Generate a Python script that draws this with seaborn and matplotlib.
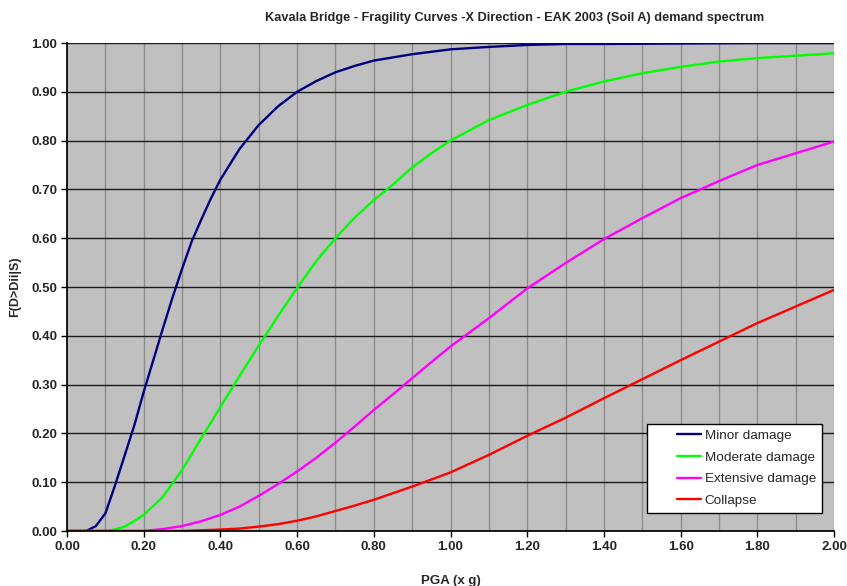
import numpy as np
import pandas as pd
import matplotlib
matplotlib.use("Agg")
import matplotlib.pyplot as plt
import seaborn as sns

title = "Kavala Bridge - Fragility Curves -X Direction - EAK 2003 (Soil A) demand spectrum"
x_label = "PGA (x g)"
y_label = "F(D>Dii|S)"

minor_x = [0.00, 0.05, 0.075, 0.10, 0.125, 0.15, 0.175, 0.20, 0.225, 0.25, 0.275, 0.30, 0.325,
           0.35, 0.375, 0.40, 0.45, 0.50, 0.55, 0.60, 0.65, 0.70, 0.75, 0.80, 0.90, 1.00,
           1.10, 1.20, 1.30, 1.40, 1.60, 1.80, 2.00]
minor_y = [0.0, 0.0, 0.01, 0.036, 0.093, 0.154, 0.215, 0.285, 0.35, 0.415, 0.478, 0.537, 0.593,
           0.638, 0.681, 0.72, 0.783, 0.832, 0.87, 0.90, 0.922, 0.94, 0.953, 0.964, 0.977, 0.987,
           0.992, 0.996, 0.998, 0.998, 0.999, 1.0, 1.0]

moderate_x = [0.00, 0.10, 0.125, 0.15, 0.175, 0.20, 0.25, 0.30, 0.35, 0.40, 0.45, 0.50, 0.55,
              0.60, 0.65, 0.70, 0.75, 0.80, 0.85, 0.90, 0.95, 1.00, 1.10, 1.20, 1.30, 1.40,
              1.50, 1.60, 1.70, 1.80, 1.90, 2.00]
moderate_y = [0.0, 0.0, 0.003, 0.009, 0.02, 0.033, 0.07, 0.125, 0.19, 0.254, 0.318, 0.38, 0.44,
              0.498, 0.553, 0.60, 0.642, 0.678, 0.71, 0.745, 0.774, 0.80, 0.842, 0.873, 0.90, 0.921,
              0.938, 0.951, 0.962, 0.969, 0.974, 0.979]

extensive_x = [0.00, 0.20, 0.25, 0.30, 0.35, 0.40, 0.45, 0.50, 0.55, 0.60, 0.65, 0.70, 0.75,
               0.80, 0.85, 0.90, 0.95, 1.00, 1.10, 1.20, 1.30, 1.40, 1.50, 1.60, 1.70, 1.80,
               1.90, 2.00]
extensive_y = [0.0, 0.0, 0.004, 0.010, 0.02, 0.033, 0.05, 0.072, 0.096, 0.122, 0.15, 0.181, 0.214,
               0.248, 0.28, 0.313, 0.346, 0.378, 0.436, 0.497, 0.549, 0.598, 0.641, 0.682, 0.717, 0.75,
               0.774, 0.798]

collapse_x = [0.00, 0.30, 0.40, 0.45, 0.50, 0.55, 0.60, 0.65, 0.70, 0.75, 0.80, 0.90, 1.00,
              1.10, 1.20, 1.30, 1.40, 1.50, 1.60, 1.70, 1.80, 1.90, 2.00]
collapse_y = [0.0, 0.0, 0.003, 0.005, 0.009, 0.014, 0.021, 0.03, 0.041, 0.052, 0.064, 0.091, 0.120,
              0.156, 0.195, 0.232, 0.272, 0.311, 0.350, 0.388, 0.426, 0.460, 0.494]

series_names = ["Minor damage", "Moderate damage", "Extensive damage", "Collapse"]
series_colors = ["#000080", "#00ff00", "#ff00ff", "#ff0000"]

frames = []
for name, xs, ys in zip(series_names,
                        [minor_x, moderate_x, extensive_x, collapse_x],
                        [minor_y, moderate_y, extensive_y, collapse_y]):
    frames.append(pd.DataFrame({"PGA": xs, "P": ys, "State": name}))
df = pd.concat(frames, ignore_index=True)

sns.set_theme(style="white")
plt.rcParams['font.family'] = ['Liberation Sans', 'DejaVu Sans']

fig = plt.figure(figsize=(8.47, 5.86), dpi=100)
ax = fig.add_axes([67/847, 55/586, (834-67)/847, (531-43)/586])
ax.set_facecolor("#c0c0c0")

sns.lineplot(data=df, x="PGA", y="P", hue="State", hue_order=series_names,
             palette=dict(zip(series_names, series_colors)), linewidth=1.7,
             ax=ax, sort=False, estimator=None)

ax.set_xlim(0, 2.0)
ax.set_ylim(0, 1.0)
xt = np.round(np.arange(0, 2.001, 0.2), 2)
yt = np.round(np.arange(0, 1.001, 0.1), 2)
ax.set_xticks(xt)
ax.set_yticks(yt)
ax.set_xticklabels([f"{v:.2f}" for v in xt], fontsize=9.5, fontweight="bold")
ax.set_yticklabels([f"{v:.2f}" for v in yt], fontsize=9.5, fontweight="bold")

ax.grid(False)
for v in np.arange(0.1, 2.001, 0.1):
    ax.axvline(v, color="#8c8c8c", lw=1.0, zorder=0.5)
for v in np.arange(0.1, 1.001, 0.1):
    ax.axhline(v, color="#1a1a1a", lw=1.0, zorder=0.6)

ax.tick_params(axis="both", which="major", direction="out", length=4, width=1,
               color="black", bottom=True, left=True, pad=3)

ax.spines["left"].set_color("black")
ax.spines["bottom"].set_color("black")
ax.spines["top"].set_visible(False)
ax.spines["right"].set_visible(False)

ax.set_xlabel(x_label, fontsize=9.5, fontweight="bold", labelpad=16)
ax.set_ylabel(y_label, fontsize=9, fontweight="bold", labelpad=7)

fig.text(515/847, 1 - 18/586, title, ha="center", va="center", fontsize=9.2,
         fontweight="bold")

fs = 9.7
leg = ax.legend(loc="lower right", bbox_to_anchor=((822-67)/767, (531-513)/488),
                frameon=True, fancybox=False, framealpha=1, edgecolor="black",
                fontsize=fs, handlelength=3.5, handletextpad=0.3, borderpad=0.45,
                labelspacing=0.68, borderaxespad=0)
leg.get_frame().set_linewidth(1.0)
leg.get_frame().set_facecolor("white")
for ln in leg.get_lines():
    xd = np.asarray(ln.get_xdata(), dtype=float)
    yd = np.asarray(ln.get_ydata(), dtype=float)
    x0, x1 = xd.min(), xd.max()
    ln.set_data([x0 + (x1 - x0) * 0.5, x1], [yd[0], yd[0]])
    ln.set_linewidth(1.7)

fig.savefig("out.png", dpi=100)
